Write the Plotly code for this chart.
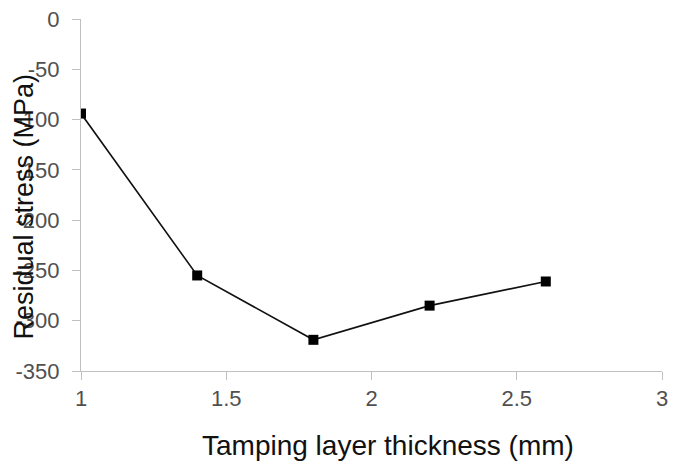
import plotly.graph_objects as go

# Residual stress versus tamping layer thickness
thickness_mm = [1.0, 1.4, 1.8, 2.2, 2.6]
residual_stress_mpa = [-94, -255, -319, -285, -261]

x_ticks = [1, 1.5, 2, 2.5, 3]
x_tick_labels = ["1", "1.5", "2", "2.5", "3"]
y_ticks = [0, -50, -100, -150, -200, -250, -300, -350]
y_tick_labels = ["0", "-50", "-100", "-150", "-200", "-250", "-300", "-350"]

font_family = "Liberation Sans, Arial, sans-serif"
axis_grey = "#c0c0c0"
tick_text = "#505050"
title_text = "#111111"

fig = go.Figure()
fig.add_trace(go.Scatter(
    x=thickness_mm,
    y=residual_stress_mpa,
    mode="lines+markers",
    line=dict(color="#111111", width=1.6),
    marker=dict(symbol="square", size=10, color="black"),
    showlegend=False,
))

axis_common = dict(
    tickmode="array",
    showgrid=False,
    zeroline=False,
    showline=True,
    linecolor=axis_grey,
    linewidth=1,
    ticks="outside",
    ticklen=8,
    tickcolor=axis_grey,
    tickfont=dict(size=22, color=tick_text, family=font_family),
)

fig.update_layout(
    width=675,
    height=463,
    margin=dict(l=81, r=7, t=18, b=92),
    paper_bgcolor="white",
    plot_bgcolor="white",
    font=dict(family=font_family, color=tick_text),
    xaxis=dict(range=[1, 3], tickvals=x_ticks, ticktext=x_tick_labels,
               **axis_common),
    yaxis=dict(range=[-350, 0], tickvals=y_ticks, ticktext=y_tick_labels,
               ticklabelstandoff=8, **axis_common),
    annotations=[
        dict(
            text="Tamping layer thickness (mm)",
            xref="paper", yref="paper",
            x=0.528, y=-0.2125,
            xanchor="center", yanchor="middle",
            showarrow=False,
            font=dict(size=28, color=title_text, family=font_family),
        ),
        dict(
            text="Residual stress (MPa)",
            xref="paper", yref="paper",
            x=-0.0988, y=0.466,
            xanchor="center", yanchor="middle",
            textangle=-90,
            showarrow=False,
            font=dict(size=27, color=title_text, family=font_family),
        ),
    ],
)

fig.write_html("out.html")
